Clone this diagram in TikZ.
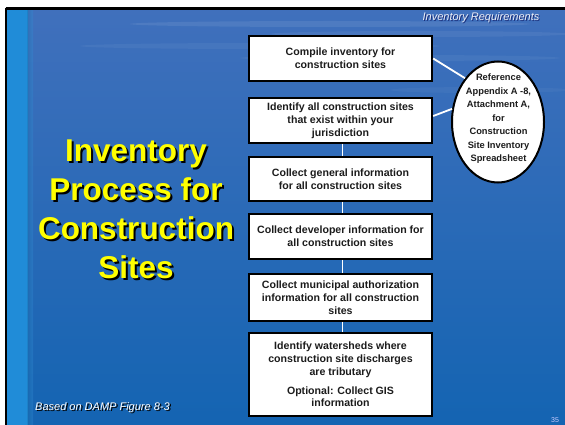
\documentclass[tikz,border=0pt]{standalone}
\usepackage{fontspec}
\setmainfont{Liberation Sans}
\usetikzlibrary{shapes.geometric}
\definecolor{bgtop}{RGB}{64,112,188}
\definecolor{bgmid}{RGB}{54,146,218}
\definecolor{bgbot}{RGB}{20,100,178}
\definecolor{stripc}{RGB}{32,140,216}
\definecolor{boxtext}{RGB}{28,28,28}
\definecolor{ttl}{RGB}{255,255,0}
\definecolor{hdr}{RGB}{236,238,246}
\begin{document}
\begin{tikzpicture}[x=1pt,y=-1pt,
  stepbox/.style={draw=black, line width=2.4pt, fill=white, minimum width=183pt,
    align=center, text=boxtext, inner sep=1pt,
    font=\bfseries\fontsize{10.6}{12.8}\selectfont},
  ovaltext/.style={align=center, text=boxtext, inner sep=0pt,
    font=\bfseries\fontsize{9.3}{13.5}\selectfont},
  link/.style={draw=white, line width=1.8pt},
  titletext/.style={font=\bfseries\fontsize{31.5}{39}\selectfont, align=center, inner sep=0pt},
  smallital/.style={font=\itshape\fontsize{11}{13}\selectfont, inner sep=0pt}]
\useasboundingbox (0,0) rectangle (565,425);
% background
\fill[white] (0,0) rectangle (565,425);
\shade[top color=bgtop, middle color=bgmid, bottom color=bgbot] (7,10) rectangle (565,425);
\fill[stripc] (7,10) rectangle (28,425);
\shade[left color=stripc!80!black, right color=bgmid, opacity=0.35] (27,10) rectangle (33,425);
\foreach \xx/\yy/\ww/\rx in {330/24/0.08/200,420/34/0.06/150,260/46/0.05/180,400/58/0.05/160,480/90/0.04/90}{
  \fill[white, opacity=\ww] (\xx,\yy) ellipse (\rx pt and 3pt);
}
\draw[black, line width=3pt] (5.5,8.5) -- (565,8.5);
\draw[black, line width=2pt] (6,8.5) -- (6,425);

% header
\node[smallital, text=black!70!blue, opacity=0.6] (hdrs) at (482,19) {Inventory Requirements};
\node[smallital, text=hdr] (hdr) at (481,18) {Inventory Requirements};

% title
\node[titletext, text=black] (tsh) at (138,211) {Inventory\\Process for\\Construction\\Sites};
\node[titletext, text=ttl] (title) at (136,209) {Inventory\\Process for\\Construction\\Sites};

% boxes
\node[stepbox, minimum height=44.5pt] (b1) at (340.5,58.5) {Compile inventory for\\construction sites};
\node[stepbox, minimum height=44.5pt] (b2) at (340.5,120.5) {Identify all construction sites\\that exist within your\\jurisdiction};
\node[stepbox, minimum height=43.5pt] (b3) at (340.5,179) {Collect general information\\for all construction sites};
\node[stepbox, minimum height=44.5pt] (b4) at (340.5,236.5) {Collect developer information for\\all construction sites};
\node[stepbox, minimum height=46.5pt] (b5) at (340.5,297.5) {Collect municipal authorization\\information for all construction\\sites};
\node[stepbox, minimum height=82.5pt] (b6) at (340.5,374.5) {Identify watersheds where\\construction site discharges\\are tributary\\[6pt]Optional: Collect GIS\\information};

% connectors between boxes
\draw[link] ([xshift=2pt]b2.south) -- ([xshift=2pt]b3.north);
\draw[link] ([xshift=2pt]b3.south) -- ([xshift=2pt]b4.north);
\draw[link] ([xshift=2pt]b4.south) -- ([xshift=2pt]b5.north);
\draw[link] ([xshift=2pt]b5.south) -- ([xshift=2pt]b6.north);

% oval
\node[ellipse, draw=black, line width=2pt, fill=white, minimum width=92pt, minimum height=121pt, inner sep=0pt] (ell) at (498,122) {};
\node[ovaltext] (ellt) at (498.5,119) {Reference\\Appendix A -8,\\Attachment A,\\for\\Construction\\Site Inventory\\Spreadsheet};
\draw[link] (b1.east) -- (ell.127);
\draw[link] ([yshift=4.5pt]b2.east) -- (ell.164);

% footer
\node[smallital, text=black, anchor=west] (fts) at (36.5,409) {Based on DAMP Figure 8-3};
\node[smallital, text=white, anchor=west] (ft) at (35,408) {Based on DAMP Figure 8-3};
\node[font=\fontsize{7}{8}\selectfont, text=white!80!blue, inner sep=0pt] (pg) at (555,420) {35};
\end{tikzpicture}
\end{document}
